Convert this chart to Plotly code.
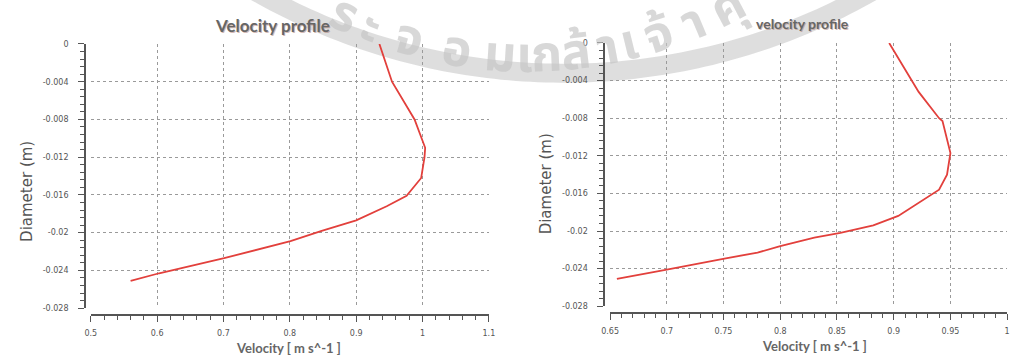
import numpy as np
import plotly.graph_objects as go

# ---- data -------------------------------------------------------------
# left panel: velocity (m/s) against position across the pipe (m)
vel_left = [0.935, 0.954, 0.988, 1.004, 1.003, 0.998, 0.976, 0.946,
            0.900, 0.848, 0.801, 0.701, 0.603, 0.560]
pos_left = [0.0, -0.004, -0.008, -0.011, -0.012, -0.0142, -0.0161, -0.0172,
            -0.0187, -0.0198, -0.0209, -0.0227, -0.0243, -0.0251]

# right panel
vel_right = [0.896, 0.915, 0.922, 0.940, 0.943, 0.950, 0.947, 0.940,
             0.930, 0.904, 0.882, 0.853, 0.830, 0.800, 0.780, 0.752,
             0.700, 0.656]
pos_right = [0.0, -0.0038, -0.0052, -0.008, -0.0083, -0.0117, -0.014, -0.0156,
             -0.0164, -0.0184, -0.0194, -0.0202, -0.0207, -0.0216, -0.0223, -0.0229,
             -0.0241, -0.0251]

left_x_ticks = [0.5, 0.6, 0.7, 0.8, 0.9, 1.0, 1.1]
right_x_ticks = [0.65, 0.7, 0.75, 0.8, 0.85, 0.9, 0.95, 1.0]
y_ticks = [0, -0.004, -0.008, -0.012, -0.016, -0.02, -0.024, -0.028]

titles = ["Velocity profile", "velocity profile"]
x_title = "Velocity [ m s^-1 ]"
y_title = "Diameter (m)"
watermark = ["ร", "ะ", "จ", "อ", "ม", "เ", "ก", "ล้", "า", "เ", "จ้", "า", "คุ"]

# ---- page geometry ----------------------------------------------------
W, H = 1024, 358


def px(x):
    return x / W


def py(y):
    return 1 - y / H


GRID = "#9a9a9a"
AXIS = "#555555"
TICKFONT = dict(family="DejaVu Sans", size=8, color="#555555")
RED = "#e2403c"

fig = go.Figure()

fig.add_trace(go.Scatter(x=vel_left, y=pos_left, mode="lines",
                         line=dict(color=RED, width=1.8), xaxis="x", yaxis="y",
                         showlegend=False, hoverinfo="skip"))
fig.add_trace(go.Scatter(x=vel_right, y=pos_right, mode="lines",
                         line=dict(color=RED, width=1.8), xaxis="x2", yaxis="y2",
                         showlegend=False, hoverinfo="skip"))


def xaxis(dom, rng, ticks, dminor, ypos):
    return dict(domain=[px(dom[0]), px(dom[1])], range=rng, anchor="free",
                position=py(ypos), tickvals=ticks,
                ticktext=[f"{t:g}" for t in ticks],
                showline=True, linecolor=AXIS, linewidth=1.5,
                ticks="outside", ticklen=6, tickwidth=1.2, tickcolor=AXIS,
                minor=dict(ticks="outside", ticklen=4, tickwidth=1, tickcolor=AXIS,
                           dtick=dminor, showgrid=False),
                showgrid=True, gridcolor=GRID, griddash="dot", gridwidth=1,
                zeroline=False, tickfont=TICKFONT, ticklabelstandoff=5)


def yaxis(dom, xpos):
    return dict(domain=[py(dom[1]), py(dom[0])], range=[-0.028, 0], anchor="free",
                position=px(xpos), tickvals=y_ticks,
                ticktext=[f"{t:g}" for t in y_ticks],
                showline=True, linecolor=AXIS, linewidth=1.5,
                ticks="outside", ticklen=6, tickwidth=1.2, tickcolor=AXIS,
                minor=dict(ticks="outside", ticklen=4, tickwidth=1, tickcolor=AXIS,
                           dtick=0.0008, tick0=0, showgrid=False),
                showgrid=True, gridcolor=GRID, griddash="dot", gridwidth=1,
                zeroline=False, tickfont=TICKFONT, ticklabelstandoff=8)


fig.update_layout(
    width=W, height=H,
    margin=dict(l=0, r=0, t=0, b=0),
    paper_bgcolor="white", plot_bgcolor="rgba(0,0,0,0)",
    xaxis=xaxis((83, 487), [0.5, 1.1], left_x_ticks, 0.02, 319),
    yaxis=yaxis((41, 312), 77),
    xaxis2=xaxis((610, 1013), [0.65, 1.0], right_x_ticks, 0.01, 317),
    yaxis2=yaxis((40, 310), 604),
)


def label(txt, cx, cy, font, angle=0):
    fig.add_annotation(x=px(cx), y=py(cy), xref="paper", yref="paper",
                       text=txt, showarrow=False, textangle=angle, font=font,
                       xanchor="center", yanchor="middle")


# ---- watermark arc band and lettering ------------------------------------
bc_x, bc_y, bR = 563, -555, 626
ang = np.linspace(np.radians(-40), np.radians(40), 120)
bx = bc_x + bR * np.sin(ang)
by = bc_y + bR * np.cos(ang)
path = "M " + " L ".join(f"{px(a):.5f},{py(b):.5f}" for a, b in zip(bx, by))
fig.add_shape(type="path", path=path, xref="paper", yref="paper",
              line=dict(color="rgba(200,200,200,0.6)", width=19), layer="below")

tc_x, tc_y, tR = 526, -396, 438
char_x = [340, 367, 406, 455, 498, 523, 545, 575, 608, 630, 660, 695, 730]
wm_font = dict(family="Noto Sans Thai, Noto Sans, DejaVu Sans", size=50,
               color="rgba(195,195,195,0.65)", weight="bold")
for ch, cx in zip(watermark, char_x):
    phi = np.arcsin((cx - tc_x) / tR)
    cy = tc_y + tR * np.cos(phi) + 12
    label(ch, cx, cy, wm_font, -np.degrees(phi))

# ---- titles -------------------------------------------------------------
for txt, cx, cy, size in [(titles[0], 267, 22, 17), (titles[1], 805, 20, 14)]:
    # soft shadow behind the heading
    label(f"<b>{txt}</b>", cx + 1, cy + 1,
          dict(family="Lato", size=size, color="rgba(170,120,110,0.5)"))
    label(f"<b>{txt}</b>", cx, cy, dict(family="Lato", size=size, color="#666666"))

for cx, cy in [(284, 353), (817, 351)]:
    label(f"<b>{x_title}</b>", cx, cy, dict(family="Lato", size=13, color="#666666"))

for cx, cy in [(18, 192), (545, 185)]:
    label(y_title, cx, cy, dict(family="DejaVu Sans", size=15, color="#555555"), -90)

fig.write_html("out.html")
